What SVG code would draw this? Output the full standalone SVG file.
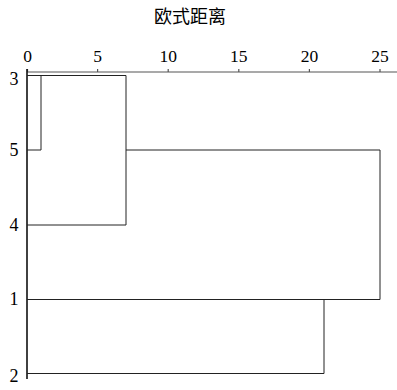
<svg xmlns="http://www.w3.org/2000/svg" width="397" height="390" viewBox="0 0 397 390">
<style>
.num{font-family:"Liberation Serif","Times New Roman",serif;font-size:18px;fill:#000}
.tick{font-family:"Liberation Serif","Times New Roman",serif;font-size:17.5px;fill:#000;text-anchor:middle}
.title{font-family:"Liberation Serif","Noto Sans CJK SC",serif;font-size:18px;fill:#000;text-anchor:middle}
.ax{stroke:#555;stroke-width:1.2;fill:none}
.ln{stroke:#222;stroke-width:1;fill:none}
</style>
<rect width="397" height="390" fill="#fff"/>
<g id="title"><text class="title" x="190" y="23">欧式距离</text></g>
<g id="axis">
<line class="ax" x1="27" y1="72" x2="397" y2="72"/>
<path class="ax" d="M27.5 69V72M97.6 69V72M168.2 69V72M238.8 69V72M309.4 69V72M380 69V72"/>
<text class="tick" x="27.5" y="62">0</text>
<text class="tick" x="97.6" y="62">5</text>
<text class="tick" x="168.2" y="62">10</text>
<text class="tick" x="238.8" y="62">15</text>
<text class="tick" x="309.4" y="62">20</text>
<text class="tick" x="380" y="62">25</text>
</g>
<g id="leaf-3"><text class="num" x="18.5" y="85" text-anchor="end">3</text></g>
<g id="leaf-5"><text class="num" x="18.5" y="156" text-anchor="end">5</text></g>
<g id="leaf-4"><text class="num" x="18.5" y="231" text-anchor="end">4</text></g>
<g id="leaf-1"><text class="num" x="18.5" y="305" text-anchor="end">1</text></g>
<g id="leaf-2"><text class="num" x="18.5" y="382" text-anchor="end">2</text></g>
<g id="connectors">
<line x1="27" y1="69" x2="27" y2="379" stroke="#111" stroke-width="1.6"/>
<path class="ln" d="M27 75.5H126V225H27"/>
<path class="ln" d="M41 75.5V150H27"/>
<path class="ln" d="M126 150H380V299.5H27"/>
<path class="ln" d="M324 299.5V373.5H27"/>
</g>
</svg>
